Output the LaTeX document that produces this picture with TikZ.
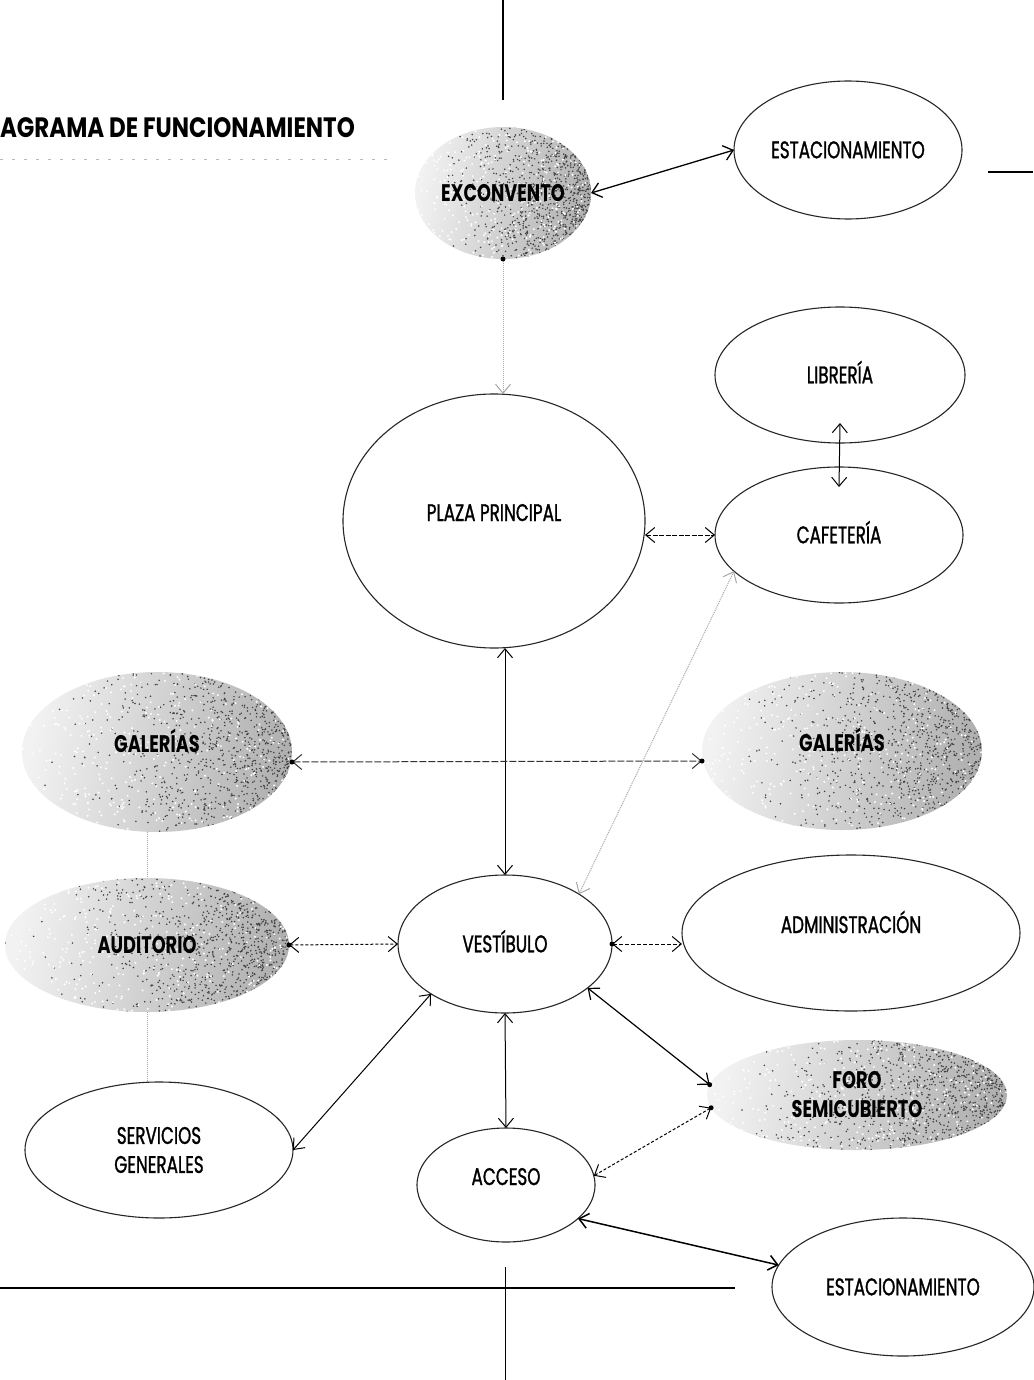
\documentclass[tikz,border=0pt]{standalone}
\usepackage{fontspec}
\newfontfamily\gothic[FakeStretch=0.70,FakeBold=1.2]{Poppins}
\newfontfamily\gothicb[FakeStretch=0.74]{Poppins}
\newfontfamily\titlef[FakeStretch=0.82]{Poppins}
\usetikzlibrary{shapes.geometric,arrows.meta,calc}
\pgfdeclarelayer{bg}
\pgfsetlayers{bg,main}
\newcommand\graybg[3]{%
  \shade[left color=gray!10, right color=gray!62, shading angle=80] (#1.center) ellipse [x radius=#2, y radius=#3];
  \begin{scope}
    \clip (#1.center) ellipse [x radius=#2, y radius=#3];
    \foreach \i in {1,...,1100}{%
      \pgfmathsetmacro\sx{(2*(rnd^0.33)-1)*#2}%
      \pgfmathsetmacro\sy{(2*rnd-1)*#3}%
      \fill[black!75] ([shift={(\sx,\sy)}]#1.center) circle (0.85);
    }
    \foreach \i in {1,...,350}{%
      \pgfmathsetmacro\sx{(2*rnd-1)*#2}%
      \pgfmathsetmacro\sy{(2*rnd-1)*#3}%
      \fill[white] ([shift={(\sx,\sy)}]#1.center) circle (1.1);
    }
  \end{scope}}
\begin{document}
\begin{tikzpicture}[x=1pt,y=-1pt,
  every node/.style={inner sep=0pt, outer sep=0pt},
  whiteell/.style={ellipse, draw=black!85, line width=1.1pt, fill=white, align=center,
    font=\gothic\fontsize{24}{29}\selectfont},
  grayell/.style={ellipse, align=center,
    font=\gothicb\bfseries\fontsize{24}{29}\selectfont},
  capsc/.style={text height=16.5pt, text depth=0pt},
  lifted/.style={text height=0pt, text depth=0pt},
  link/.style={line width=1pt, {Straight Barb[length=9pt,width=15pt]}-{Straight Barb[length=9pt,width=15pt]}},
  onelink/.style={line width=1pt, -{Straight Barb[length=9pt,width=15pt]}},
  frame/.style={line width=1.2pt, black},
  dotv/.style={densely dotted, gray!70, line width=1pt}
]
\pgfmathsetseed{4711}
\useasboundingbox (0,0) rectangle (1033,1380);
\begin{pgfonlayer}{bg}
\fill[white] (0,0) rectangle (1033,1380);
\end{pgfonlayer}

% frame / cross marks
\coordinate (t1) at (503,0);   \coordinate (t2) at (503,100);
\coordinate (r1) at (988,172); \coordinate (r2) at (1033,172);
\coordinate (b1) at (0,1288);  \coordinate (b2) at (735,1288);
\coordinate (v1) at (505,1267); \coordinate (v2) at (505,1380);
\coordinate (d1) at (0,160);   \coordinate (d2) at (395,160);
\draw[frame] (t1) -- (t2);
\draw[frame] (r1) -- (r2);
\draw[frame] (b1) -- (b2);
\draw[line width=1pt] (v1) -- (v2);
\draw[gray!55, line width=1pt, dash pattern=on 3pt off 9pt] (d1) -- (d2);

% title
\node[anchor=west, font=\titlef\bfseries\fontsize{28}{32}\selectfont] (title) at (0,128) {AGRAMA DE FUNCIONAMIENTO};

% nodes
\node[grayell, capsc, minimum width=176pt, minimum height=132pt] (exc) at (503,193) {EXCONVENTO};
\node[whiteell, capsc, minimum width=228pt, minimum height=138pt] (est1) at (848,150) {ESTACIONAMIENTO};
\node[whiteell, lifted, minimum width=302pt, minimum height=254pt] (plaza) at (494,521) {PLAZA PRINCIPAL};
\node[whiteell, capsc, minimum width=250pt, minimum height=136pt] (lib) at (840,375) {LIBRERÍA};
\node[whiteell, capsc, minimum width=248pt, minimum height=136pt] (cafe) at (839,535) {CAFETERÍA};
\node[grayell, lifted, minimum width=270pt, minimum height=160pt] (galL) at (157,752) {GALERÍAS};
\node[grayell, lifted, minimum width=280pt, minimum height=158pt] (galR) at (842,751) {GALERÍAS};
\node[grayell, capsc, minimum width=284pt, minimum height=134pt] (aud) at (147,945) {AUDITORIO};
\node[whiteell, capsc, minimum width=214pt, minimum height=138pt] (vest) at (505,944) {VESTÍBULO};
\node[whiteell, lifted, minimum width=338pt, minimum height=156pt] (admin) at (851,933) {ADMINISTRACIÓN};
\node[whiteell, minimum width=268pt, minimum height=136pt] (serv) at (159,1150) {SERVICIOS\\GENERALES};
\node[grayell, minimum width=300pt, minimum height=110pt] (foro) at (857,1095) {FORO\\SEMICUBIERTO};
\node[whiteell, lifted, minimum width=178pt, minimum height=114pt] (acc) at (506,1185) {ACCESO};
\node[whiteell, capsc, minimum width=262pt, minimum height=138pt] (est2) at (903,1287) {ESTACIONAMIENTO};

% stippled grey fills, behind the labels
\begin{pgfonlayer}{bg}
\graybg{exc}{88}{66}
\graybg{galL}{135}{80}
\graybg{galR}{140}{79}
\graybg{aud}{142}{67}
\graybg{foro}{150}{55}
\end{pgfonlayer}

% connectors
\draw[link, line width=1.3pt] (exc.east) -- (est1.west);
\draw[onelink, densely dotted, gray!70] (exc.south) -- (exc.south |- plaza.north);
\fill (exc.south) circle (2.5);
\draw[link, dash pattern=on 5pt off 1.5pt] (plaza.east |- cafe.west) -- (cafe.west);
\draw[link] ([yshift=20pt]lib.south) -- ([yshift=-20pt]cafe.north);
\draw[link] (vest.north |- plaza.south) -- (vest.north);
\draw[link, black!80, dash pattern=on 7pt off 2pt] ([yshift=-10pt]galL.east) -- ([yshift=-10pt]galR.west);
\fill ([yshift=-10pt]galL.east) circle (2.5);
\fill ([yshift=-10pt]galR.west) circle (2.5);
\draw[link, densely dotted, gray!70] (cafe.199) -- (vest.34);
\draw[link, dash pattern=on 3pt off 2pt] (aud.east) -- (vest.west);
\fill (aud.east) circle (2.5);
\draw[link, dash pattern=on 4pt off 2pt] (vest.east) -- (admin.west |- vest.east);
\fill (vest.east) circle (2.5);
\draw[link] (serv.east) -- (vest.214);
\draw[link, line width=1.2pt] (vest.332) -- (foro.176);
\fill (foro.176) circle (2.5);
\draw[link, dash pattern=on 3pt off 2pt] (foro.185) -- (acc.6);
\fill (foro.185) circle (2.5);
\draw[link] (vest.south) -- (acc.north);
\draw[link, line width=1.5pt] (acc.335) -- (est2.170);
\draw[dotv] (aud.north |- galL.south) -- (aud.north);
\draw[dotv] (aud.south) -- (aud.south |- serv.north);
\end{tikzpicture}
\end{document}
